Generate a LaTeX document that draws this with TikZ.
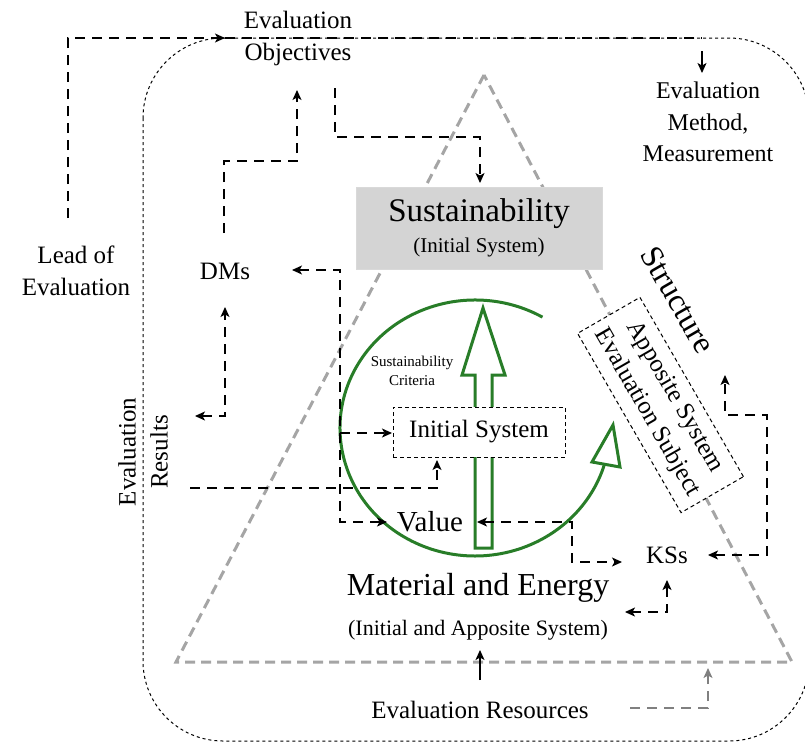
\documentclass[tikz,border=0pt]{standalone}
\usepackage{fontspec}
\setmainfont{Liberation Serif}
\usetikzlibrary{arrows.meta,calc}
\definecolor{grn}{RGB}{40,125,40}
\definecolor{tri}{RGB}{165,165,165}
\definecolor{boxgray}{RGB}{212,212,212}
\begin{document}
\begin{tikzpicture}[x=1pt,y=-1pt,
  conn/.style={draw=black, line width=1.2pt, dash pattern=on 10pt off 7pt},
  arr/.style={-{Stealth[length=10pt,width=9pt,inset=2.5pt]}},
  biarr/.style={{Stealth[length=10pt,width=9pt,inset=2.5pt]}-{Stealth[length=10pt,width=9pt,inset=2.5pt]}},
  lbl/.style={font=\fontsize{25}{32}\selectfont, align=center, inner sep=0pt},
  greenline/.style={draw=grn, line width=3pt},
  smallbox/.style={draw=black, line width=1pt, dash pattern=on 4pt off 3pt, fill=white}]
\useasboundingbox (0,0) rectangle (805,742);

% outer rounded frame
\draw[line width=1pt, dash pattern=on 3pt off 3pt, rounded corners=80pt] (143,38) rectangle (809,741);

% grey triangle
\draw[tri, line width=3pt, dash pattern=on 10pt off 6pt] (484,75) -- (176,662) -- (792,662) -- cycle;

% green cycle arrow
\draw[greenline] (475,428) ++(-60:135 and 128) arc[start angle=-60, end angle=-343.4, x radius=135, y radius=128];
\draw[greenline, line join=miter] (592,462) -- (613,425) -- (620,467) -- cycle;

% big hollow arrow
\draw[greenline, line join=miter] (475,548) -- (475,375) -- (462,375) -- (483,308) -- (505,375) -- (492,375) -- (492,548) -- cycle;

% Sustainability box
\node[lbl, fill=boxgray, draw=gray!30, line width=1pt, minimum width=246pt, minimum height=82pt] (sus) at (479,228)
  {{\fontsize{33}{38}\selectfont Sustainability}\\[-1pt]{\fontsize{21}{26}\selectfont (Initial System)}};

% nodes
\node[lbl] (obj) at (298,38) {Evaluation\\Objectives};
\node[lbl, font=\fontsize{24}{31.5}\selectfont] (meth) at (708,122) {Evaluation\\Method,\\Measurement};
\node[lbl] (lead) at (76,271) {Lead of\\Evaluation};
\node[lbl] (dms) at (225,271) {DMs};
\node[lbl, rotate=90] (res) at (143,452) {Evaluation\\Results};
\node[lbl, font=\fontsize{15}{19}\selectfont] (crit) at (412,371) {Sustainability\\Criteria};
\node[lbl, smallbox, minimum width=172pt, minimum height=50pt] (init) at (479,432) {Initial System};
\node[lbl, font=\fontsize{29}{34}\selectfont] (val) at (430,522) {Value};
\node[lbl] (kss) at (667,555) {KSs};
\node[lbl, font=\fontsize{32}{36}\selectfont] (mat) at (478,588) {Material and Energy};
\node[lbl, font=\fontsize{22}{27}\selectfont] (matsub) at (478,630) {(Initial and Apposite System)};
\node[lbl] (resrc) at (480,710) {Evaluation Resources};
\node[lbl, font=\fontsize{32}{36}\selectfont, rotate=-60] (struct) at (678,300) {Structure};
\node[lbl, smallbox, rotate=-60, minimum width=207pt, minimum height=72pt] (app) at (660.5,405) {Apposite System\\Evaluation Subject};

% coordinates for connectors
\coordinate (l1) at (68,218);
\coordinate (objw) at (225,38);
\coordinate (topr) at (702,38);
\coordinate (m0) at (702,51);
\coordinate (m1) at (702,73);
\coordinate (d1) at (224,233);
\coordinate (o1) at (297,90);
\coordinate (o2) at (335,88);
\coordinate (s1) at (480,183);
\coordinate (dmsE) at (292,270);
\coordinate (j1) at (340,270);
\coordinate (j2) at (340,433);
\coordinate (j3) at (340,522);
\coordinate (initW) at (392,433);
\coordinate (valW) at (387,522);
\coordinate (r1) at (190,488);
\coordinate (initS) at (437,460);
\coordinate (dmsS) at (225,307);
\coordinate (r2) at (225,416);
\coordinate (resE) at (195,416);
\coordinate (valE) at (477,522);
\coordinate (kssW) at (622,562);
\coordinate (kssE) at (708,555);
\coordinate (strS) at (725,375);
\coordinate (kssS) at (667,580);
\coordinate (matE) at (625,612);
\coordinate (mat0) at (480,680);
\coordinate (matS) at (480,650);
\coordinate (rs0) at (630,708);
\coordinate (triB) at (708,668);

% connectors
\draw[conn, arr] (l1) |- (objw);
\draw[conn] (objw) -- (topr);
\draw[line width=1.2pt, arr] (m0) -- (m1);
\draw[conn, arr] (d1) -- (224,161) -- (297,161) -- (o1);
\draw[conn, arr] (o2) -- (335,137) -- (480,137) -- (s1);
\draw[conn, biarr] (dmsE) -- (j1) -- (j3) -- (valW);
\draw[conn, arr] (j2) -- (initW);
\draw[conn, arr] (r1) -| (initS);
\draw[conn, biarr] (resE) -- (r2) -- (dmsS);
\draw[conn, biarr] (valE) -- (572,522) -- (572,562) -- (kssW);
\draw[conn, biarr] (kssE) -- (767,555) -- (767,415) -- (725,415) -- (strS);
\draw[conn, biarr] (kssS) -- (667,612) -- (matE);
\draw[line width=1.2pt, arr] (mat0) -- (matS);
\draw[conn, draw=gray, arr] (rs0) -| (triB);
\end{tikzpicture}
\end{document}
